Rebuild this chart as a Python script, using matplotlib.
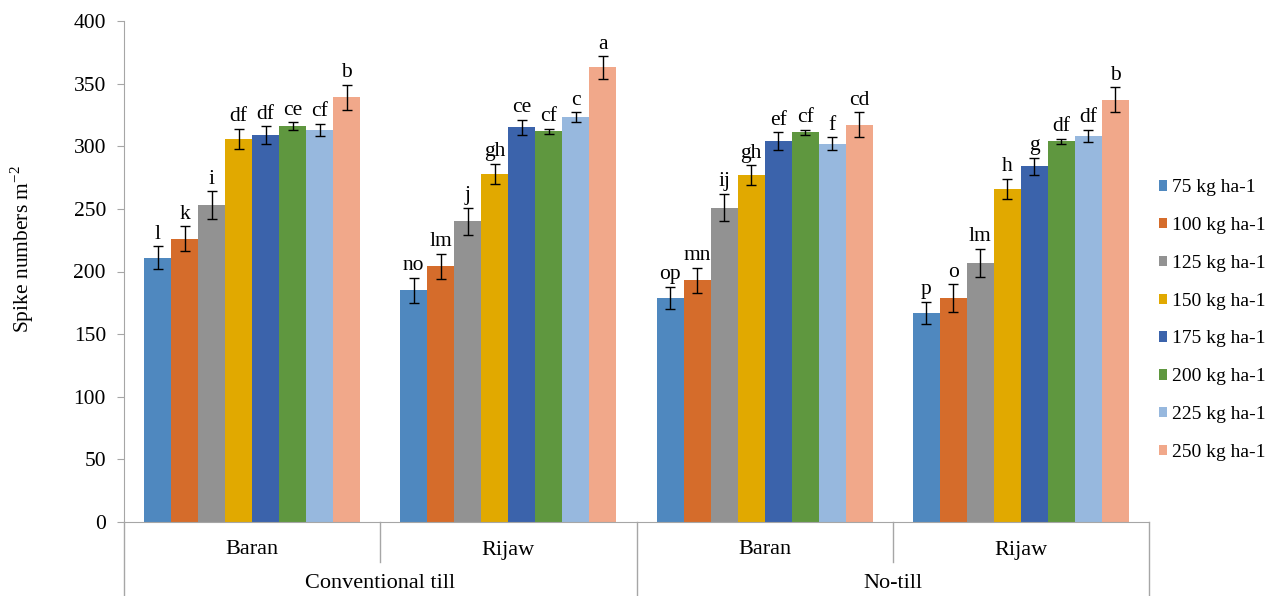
import matplotlib
matplotlib.use('Agg')
import matplotlib.pyplot as plt
import numpy as np

plt.rcParams['font.family'] = ['Liberation Serif', 'DejaVu Serif']
plt.rcParams['mathtext.fontset'] = 'custom'
plt.rcParams['mathtext.rm'] = 'Liberation Serif'

# data
tillage = ['Conventional till', 'No-till']
cultivars = ['Baran', 'Rijaw', 'Baran', 'Rijaw']
rates = ['75 kg ha-1', '100 kg ha-1', '125 kg ha-1', '150 kg ha-1',
         '175 kg ha-1', '200 kg ha-1', '225 kg ha-1', '250 kg ha-1']
colors = ['#4f88bf', '#d56c2b', '#929292', '#e1a900',
          '#3b63ab', '#5f973f', '#97b8de', '#f1a88a']

# values per group (rows) and rate (columns)
means = [
    [211, 226, 253, 306, 309, 316, 313, 339],
    [185, 204, 240, 278, 315, 312, 323, 363],
    [179, 193, 251, 277, 304, 311, 302, 317],
    [167, 179, 207, 266, 284, 304, 308, 337],
]
errs = [
    [9, 10, 11, 8, 7, 3, 5, 10],
    [10, 10, 11, 8, 6, 2, 4, 9],
    [9, 10, 11, 8, 7, 2, 5, 10],
    [9, 11, 11, 8, 7, 2, 5, 10],
]
letters = [
    ['l', 'k', 'i', 'df', 'df', 'ce', 'cf', 'b'],
    ['no', 'lm', 'j', 'gh', 'ce', 'cf', 'c', 'a'],
    ['op', 'mn', 'ij', 'gh', 'ef', 'cf', 'f', 'cd'],
    ['p', 'o', 'lm', 'h', 'g', 'df', 'df', 'b'],
]

fig = plt.figure(figsize=(12.69, 5.96), dpi=100)
ax = fig.add_axes([124/1269, 74/596, 1025/1269, 501/596])

means = np.array(means)
errs = np.array(errs)
bw = 27/256
start = 20/256
gray = '#a6a6a6'

for i, rate in enumerate(rates):
    x = np.arange(4) + start + (i + 0.5) * bw
    ax.bar(x, means[:, i], width=bw, color=colors[i], label=rate)
    ax.errorbar(x, means[:, i], yerr=errs[:, i], fmt='none', ecolor='black',
                elinewidth=1, capsize=3.6, capthick=1)
    for g in range(4):
        ax.text(x[g], means[g, i] + errs[g, i] + 2, letters[g][i],
                ha='center', va='bottom', fontsize=15.5)

ax.set_xlim(0, 4)
ax.set_ylim(0, 400)
ax.set_yticks(range(0, 401, 50))
ax.tick_params(axis='y', labelsize=15.5, length=5, color=gray, direction='out', pad=8)
ax.set_xticks([])
ax.set_ylabel('Spike numbers m$^{-2}$', fontsize=15.5)
ax.yaxis.set_label_coords(-0.086, 0.545)
for s in ['top', 'right']:
    ax.spines[s].set_visible(False)
ax.spines['left'].set_color(gray)
ax.spines['bottom'].set_color(gray)

# two level category axis below the bars
trans = ax.get_xaxis_transform()
short = -40/501
full = -74/501
for xv in [0, 2, 4]:
    ax.plot([xv, xv], [0, full], transform=trans, color=gray, lw=1, clip_on=False)
for xv in [1, 3]:
    ax.plot([xv, xv], [0, short], transform=trans, color=gray, lw=1, clip_on=False)
for g, name in enumerate(cultivars):
    ax.text(g + 0.5, -28/501, name, transform=trans, ha='center', va='center', fontsize=16)
for t, name in enumerate(tillage):
    ax.text(2 * t + 1, -62/501, name, transform=trans, ha='center', va='center', fontsize=16)

ax.legend(loc='center left', bbox_to_anchor=(1.0, 0.403), frameon=False,
          fontsize=14, handlelength=0.45, handleheight=0.45, labelspacing=1.07,
          handletextpad=0.25, borderaxespad=0.1, borderpad=0.4)

fig.savefig('out.png', dpi=100)
